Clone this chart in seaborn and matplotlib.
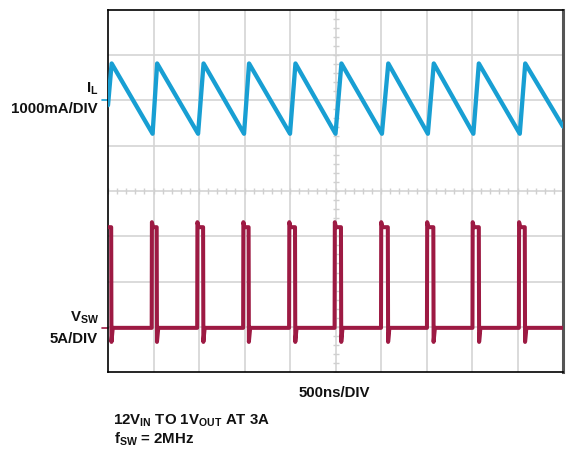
import numpy as np
import pandas as pd
import matplotlib
matplotlib.use("Agg")
import matplotlib.pyplot as plt
import matplotlib.transforms as mtransforms
import seaborn as sns

# ---- data (units: divisions of the scope screen) ----
il_peak_t = [0.08, 1.08, 2.10, 3.10, 4.12, 5.13, 6.16, 7.16, 8.15, 9.17]
il_trough_t = [0.98, 1.98, 2.99, 4.00, 5.00, 6.02, 7.03, 8.03, 9.05]
il_peak_v = 6.81
il_trough_v = 5.26
il_start_v = 5.89
il_end_v = 5.42

sw_rise_t = [0.96, 1.96, 2.97, 3.98, 4.98, 6.00, 7.01, 8.01, 9.03]
sw_fall_t = [0.07, 1.07, 2.09, 3.09, 4.11, 5.12, 6.15, 7.15, 8.15, 9.16]
sw_low_v = 0.98
sw_high_v = 3.20
sw_spike_v = 3.31
sw_under_v = 0.67

x_divs = 10
y_divs = 8

# ---- build waveform vertices ----
il_t = [0.0]
il_v = [il_start_v]
for i, p in enumerate(il_peak_t):
    il_t.append(p); il_v.append(il_peak_v)
    if i < len(il_trough_t):
        il_t.append(il_trough_t[i]); il_v.append(il_trough_v)
il_t.append(float(x_divs)); il_v.append(il_end_v)

sw_t = [0.0]
sw_v = [sw_high_v]
for i, f in enumerate(sw_fall_t):
    if i > 0:
        r = sw_rise_t[i - 1]
        sw_t += [r, r + 0.005, r + 0.03]
        sw_v += [sw_low_v, sw_spike_v, sw_high_v]
    sw_t += [f, f + 0.006, f + 0.035]
    sw_v += [sw_high_v, sw_under_v, sw_low_v]
sw_t.append(float(x_divs)); sw_v.append(sw_low_v)

df_il = pd.DataFrame({"t": il_t, "v": il_v})
df_sw = pd.DataFrame({"t": sw_t, "v": sw_v})

IL_COLOR = "#189fd3"
SW_COLOR = "#9d1a43"

sns.set_theme(style="white")
plt.rcParams["font.family"] = ["Liberation Sans", "DejaVu Sans"]
plt.rcParams["mathtext.default"] = "regular"

W, H = 573, 449
fig = plt.figure(figsize=(W / 100, H / 100), dpi=100)
ax = fig.add_axes([108 / W, 1 - 372.3 / H, (563 - 108) / W, (372.3 - 9.5) / H])

# grid
for k in range(1, x_divs):
    ax.axvline(k, color="#d4d4d4", lw=1.2, zorder=0)
for k in range(1, y_divs):
    ax.axhline(k, color="#d4d4d4", lw=1.2, zorder=0)
# minor ticks on centre lines
mt = np.arange(0, x_divs + 0.001, 0.2)
ax.plot(mt, np.full_like(mt, y_divs / 2), ls="none", marker="|", ms=5,
        mew=1.0, color="#d0d0d0", zorder=0)
mty = np.arange(0, y_divs + 0.001, 0.2)
ax.plot(np.full_like(mty, x_divs / 2), mty, ls="none", marker="_", ms=5,
        mew=1.0, color="#d0d0d0", zorder=0)

sns.lineplot(data=df_il, x="t", y="v", sort=False, estimator=None,
             color=IL_COLOR, lw=3.1, ax=ax, zorder=3)
sns.lineplot(data=df_sw, x="t", y="v", sort=False, estimator=None,
             color=SW_COLOR, lw=2.9, ax=ax, zorder=3)

ax.set_xlim(0, x_divs)
ax.set_ylim(0, y_divs)
ax.set_xticks([]); ax.set_yticks([])
ax.set_xlabel(""); ax.set_ylabel("")
for s in ["left", "top", "bottom"]:
    ax.spines[s].set_color("black"); ax.spines[s].set_linewidth(1.2)
ax.spines["right"].set_color("#555555"); ax.spines["right"].set_linewidth(2.2)

# channel markers at left
trans = mtransforms.blended_transform_factory(ax.transAxes, ax.transData)
ax.plot([-0.013, 0], [6.0, 6.0], color=IL_COLOR, lw=1.2, transform=trans, clip_on=False)
ax.plot([-0.013, 0], [sw_low_v, sw_low_v], color=SW_COLOR, lw=1.2, transform=trans, clip_on=False)

fs = 10.8
def ftext(x, y, s, ha="left"):
    fig.text(x / W, 1 - y / H, s, ha=ha, va="baseline", fontsize=fs,
             fontweight="bold", color="#111111")

ftext(98, 93, r"I$_{L}$", ha="right")
ftext(97.5, 113, "1000mA/DIV", ha="right")
ftext(99, 322, r"V$_{SW}$", ha="right")
ftext(97.5, 342.7, "5A/DIV", ha="right")
ftext(299, 396.7, "500ns/DIV")
ftext(112.5, 424.3, r"12V$_{IN}$ TO 1V$_{OUT}$ AT 3A")
ftext(114, 443.3, r"f$_{SW}$ = 2MHz")

fig.savefig("out.png", dpi=100)
